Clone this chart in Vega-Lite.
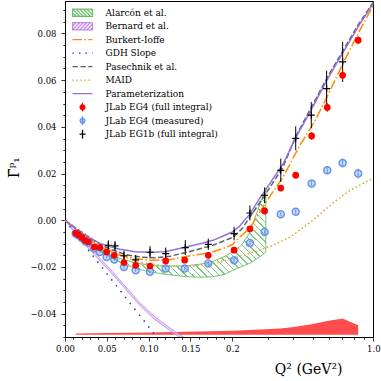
{
  "$schema": "https://vega.github.io/schema/vega-lite/v6.json",
  "width": 308,
  "height": 336,
  "autosize": {"type": "none"},
  "padding": {"left": 65, "top": 1, "right": 8, "bottom": 44},
  "background": "white",
  "config": {
    "view": {"stroke": "black", "strokeWidth": 1},
    "axis": {"grid": false, "domainColor": "black", "tickColor": "black", "labelColor": "black", "titleColor": "black", "labelFont": "DejaVu Serif", "titleFont": "DejaVu Serif", "labelFontSize": 8.5, "titleFontWeight": "normal", "tickWidth": 0.8, "domainWidth": 1}
  },
  "datasets": {
    "sys": [{"q":0.0128,"top":-0.0485},{"q":0.0498,"top":-0.0483},{"q":0.1016,"top":-0.0481},{"q":0.1431,"top":-0.0478},{"q":0.2046,"top":-0.0473},{"q":0.29,"top":-0.0467},{"q":0.348,"top":-0.0464},{"q":0.413,"top":-0.0456},{"q":0.495,"top":-0.0445},{"q":0.592,"top":-0.0432},{"q":0.705,"top":-0.0421},{"q":0.843,"top":-0.045}],
    "alarcon": [{"q":0.0299,"lo":-0.0103,"hi":-0.0099},{"q":0.0418,"lo":-0.0133,"hi":-0.0127},{"q":0.0538,"lo":-0.0158,"hi":-0.0148},{"q":0.0681,"lo":-0.0184,"hi":-0.0167},{"q":0.0837,"lo":-0.0206,"hi":-0.0182},{"q":0.1016,"lo":-0.0221,"hi":-0.0193},{"q":0.1195,"lo":-0.0231,"hi":-0.0197},{"q":0.1459,"lo":-0.0242,"hi":-0.0195},{"q":0.1614,"lo":-0.0244,"hi":-0.0188},{"q":0.177,"lo":-0.0242,"hi":-0.0176},{"q":0.1913,"lo":-0.0231,"hi":-0.0154},{"q":0.2016,"lo":-0.0214,"hi":-0.0135},{"q":0.2234,"lo":-0.0199,"hi":-0.0107},{"q":0.2448,"lo":-0.0184,"hi":-0.0051},{"q":0.2682,"lo":-0.0163,"hi":0.0043},{"q":0.2938,"lo":-0.0137,"hi":0.0137}],
    "bernard": [{"q":0,"lo":0,"hi":0},{"q":0.0179,"lo":-0.0081,"hi":-0.0073},{"q":0.0359,"lo":-0.0151,"hi":-0.0141},{"q":0.0538,"lo":-0.022,"hi":-0.0208},{"q":0.0717,"lo":-0.0293,"hi":-0.0281},{"q":0.0897,"lo":-0.0366,"hi":-0.0354},{"q":0.1076,"lo":-0.0426,"hi":-0.0414},{"q":0.1255,"lo":-0.0473,"hi":-0.0461},{"q":0.1375,"lo":-0.0503,"hi":-0.0491},{"q":0.1554,"lo":-0.0541,"hi":-0.0529}],
    "maid": [{"q":0,"v":0},{"q":0.012,"v":-0.003},{"q":0.0239,"v":-0.0058},{"q":0.0359,"v":-0.0086},{"q":0.0478,"v":-0.0111},{"q":0.0658,"v":-0.0146},{"q":0.0837,"v":-0.0176},{"q":0.1016,"v":-0.0188},{"q":0.1195,"v":-0.0195},{"q":0.1459,"v":-0.0199},{"q":0.1733,"v":-0.0188},{"q":0.2016,"v":-0.0165},{"q":0.2448,"v":-0.0141},{"q":0.3076,"v":-0.0113},{"q":0.3864,"v":-0.0073},{"q":0.5024,"v":0.0},{"q":0.6314,"v":0.0073},{"q":0.7669,"v":0.0128},{"q":1.0,"v":0.018}],
    "pas": [{"q":0,"v":0},{"q":0.0179,"v":-0.0047},{"q":0.0359,"v":-0.009},{"q":0.0538,"v":-0.0124},{"q":0.0717,"v":-0.0146},{"q":0.0897,"v":-0.0158},{"q":0.1076,"v":-0.0161},{"q":0.1255,"v":-0.0154},{"q":0.1459,"v":-0.0137},{"q":0.177,"v":-0.0107},{"q":0.2016,"v":-0.0073},{"q":0.2234,"v":-0.0039},{"q":0.2448,"v":0.0013},{"q":0.2905,"v":0.0107},{"q":0.3568,"v":0.0227},{"q":0.4138,"v":0.036},{"q":0.4911,"v":0.048},{"q":0.5896,"v":0.0608},{"q":0.6998,"v":0.0719},{"q":0.8402,"v":0.0835},{"q":1.0,"v":0.0934}],
    "bi": [{"q":0,"v":0},{"q":0.012,"v":-0.0034},{"q":0.0239,"v":-0.0069},{"q":0.0359,"v":-0.0099},{"q":0.0478,"v":-0.0122},{"q":0.0658,"v":-0.015},{"q":0.0837,"v":-0.0165},{"q":0.1016,"v":-0.0171},{"q":0.1255,"v":-0.0169},{"q":0.1459,"v":-0.0154},{"q":0.1614,"v":-0.0146},{"q":0.177,"v":-0.0135},{"q":0.1913,"v":-0.0118},{"q":0.2016,"v":-0.0103},{"q":0.2184,"v":-0.0073},{"q":0.2448,"v":-0.0034},{"q":0.2938,"v":0.0077},{"q":0.3568,"v":0.0184},{"q":0.4334,"v":0.0321},{"q":0.514,"v":0.0424},{"q":0.5896,"v":0.0527},{"q":0.7078,"v":0.0672},{"q":0.8594,"v":0.0814},{"q":1.0,"v":0.0921}],
    "gdh": [{"q":0,"v":0},{"q":0.1095,"v":-0.05}],
    "param": [{"q":0,"v":0},{"q":0.006,"v":-0.0019},{"q":0.0179,"v":-0.0051},{"q":0.0299,"v":-0.0077},{"q":0.0418,"v":-0.0099},{"q":0.0538,"v":-0.0113},{"q":0.0658,"v":-0.0124},{"q":0.0837,"v":-0.0135},{"q":0.1016,"v":-0.0137},{"q":0.1195,"v":-0.0135},{"q":0.1435,"v":-0.0116},{"q":0.1614,"v":-0.0101},{"q":0.177,"v":-0.0086},{"q":0.1913,"v":-0.0064},{"q":0.2016,"v":-0.0049},{"q":0.2184,"v":-0.0026},{"q":0.2448,"v":0.0026},{"q":0.2744,"v":0.0094},{"q":0.3076,"v":0.0158},{"q":0.3568,"v":0.024},{"q":0.4138,"v":0.0355},{"q":0.4911,"v":0.0471},{"q":0.5896,"v":0.06},{"q":0.6998,"v":0.0711},{"q":0.8402,"v":0.0827},{"q":1.0,"v":0.0929}],
    "eg1b": [{"q":0.0518,"v":-0.0107,"e":0.0021},{"q":0.0598,"v":-0.011,"e":0.0021},{"q":0.0705,"v":-0.0152,"e":0.0021},{"q":0.0845,"v":-0.017,"e":0.0021},{"q":0.1016,"v":-0.0137,"e":0.0026},{"q":0.1204,"v":-0.0143,"e":0.0026},{"q":0.1438,"v":-0.0117,"e":0.0032},{"q":0.1713,"v":-0.0103,"e":0.0024},{"q":0.2046,"v":-0.0057,"e":0.0029},{"q":0.245,"v":0.0031,"e":0.0032},{"q":0.29,"v":0.0107,"e":0.0034},{"q":0.348,"v":0.0214,"e":0.005},{"q":0.413,"v":0.0351,"e":0.0051},{"q":0.493,"v":0.045,"e":0.0056},{"q":0.588,"v":0.0564,"e":0.0076},{"q":0.705,"v":0.0678,"e":0.0086}],
    "eg4meas": [{"q":0.0128,"v":-0.0057,"e":0.0004},{"q":0.0159,"v":-0.0064,"e":0.0004},{"q":0.02,"v":-0.0076,"e":0.0004},{"q":0.0239,"v":-0.0089,"e":0.0004},{"q":0.0279,"v":-0.0096,"e":0.0005},{"q":0.035,"v":-0.0121,"e":0.0005},{"q":0.0418,"v":-0.0136,"e":0.0005},{"q":0.0498,"v":-0.0157,"e":0.0006},{"q":0.0589,"v":-0.0168,"e":0.0006},{"q":0.0705,"v":-0.02,"e":0.0007},{"q":0.0845,"v":-0.0214,"e":0.0007},{"q":0.1016,"v":-0.0221,"e":0.0007},{"q":0.1204,"v":-0.0207,"e":0.0008},{"q":0.1431,"v":-0.0207,"e":0.0008},{"q":0.1713,"v":-0.0185,"e":0.0009},{"q":0.2046,"v":-0.0171,"e":0.0009},{"q":0.245,"v":-0.0097,"e":0.0009},{"q":0.29,"v":-0.005,"e":0.0009},{"q":0.348,"v":0.0026,"e":0.0009},{"q":0.413,"v":0.0036,"e":0.001},{"q":0.495,"v":0.0157,"e":0.0011},{"q":0.592,"v":0.0214,"e":0.0016},{"q":0.705,"v":0.0245,"e":0.0019},{"q":0.843,"v":0.02,"e":0.0021}],
    "eg4full": [{"q":0.0128,"v":-0.0055,"e":0.0004},{"q":0.0159,"v":-0.0062,"e":0.0004},{"q":0.02,"v":-0.0073,"e":0.0004},{"q":0.0239,"v":-0.0086,"e":0.0004},{"q":0.0279,"v":-0.0092,"e":0.0004},{"q":0.035,"v":-0.0115,"e":0.0005},{"q":0.0418,"v":-0.0117,"e":0.0005},{"q":0.0498,"v":-0.0136,"e":0.0006},{"q":0.0589,"v":-0.015,"e":0.0006},{"q":0.0705,"v":-0.0181,"e":0.0007},{"q":0.0845,"v":-0.0193,"e":0.0007},{"q":0.1016,"v":-0.0196,"e":0.0007},{"q":0.1204,"v":-0.0174,"e":0.0008},{"q":0.1431,"v":-0.0171,"e":0.0009},{"q":0.1713,"v":-0.015,"e":0.001},{"q":0.2046,"v":-0.0128,"e":0.0011},{"q":0.245,"v":-0.0037,"e":0.0011},{"q":0.29,"v":0.004,"e":0.0012},{"q":0.348,"v":0.0138,"e":0.0012},{"q":0.413,"v":0.0193,"e":0.0014},{"q":0.495,"v":0.0361,"e":0.0017},{"q":0.592,"v":0.0483,"e":0.0019},{"q":0.705,"v":0.0621,"e":0.0022},{"q":0.843,"v":0.0771,"e":0.0017}],
    "legend": [{"series":"Alarcón et al."},{"series":"Bernard et al."},{"series":"Burkert-Ioffe"},{"series":"GDH Slope"},{"series":"Pasechnik et al."},{"series":"MAID"},{"series":"Parameterization"},{"series":"JLab EG4 (full integral)"},{"series":"JLab EG4 (measured)"},{"series":"JLab EG1b (full integral)"}]
  },
  "encoding": {
    "x": {
      "field": "q", "type": "quantitative",
      "scale": {"domain": [0,0.2,0.25,0.3,0.35,0.4,0.45,0.5,0.6,0.7,0.8,0.9,1], "range": [0,167.3,186.85,202.82,216.32,228.02,238.34,247.57,263.54,277.04,288.74,299.06,308.3], "nice": false, "zero": false},
      "axis": {
        "values": [0,0.01,0.02,0.03,0.04,0.05,0.06,0.07,0.08,0.09,0.1,0.11,0.12,0.13,0.14,0.15,0.16,0.17,0.18,0.19,0.2,0.3,0.4,0.5,0.6,0.7,0.8,0.9,1],
        "labelExpr": "indexof([0,0.05,0.1,0.15,0.2,1], datum.value) < 0 ? '' : (datum.value <= 0.15 ? format(datum.value, '.2f') : format(datum.value, '.1f'))",
        "tickSize": {"condition": {"test": "indexof([0,0.05,0.1,0.15,0.2,1], datum.value) >= 0", "value": 4}, "value": 2.2},
        "labelPadding": 3, "labelOverlap": false, "labelFlush": false,
        "title": "Q² (GeV²)", "titleFontSize": 14, "titleX": 277, "titleY": 36, "titleAlign": "right", "titleBaseline": "alphabetic"
      }
    },
    "y": {
      "field": "v", "type": "quantitative",
      "scale": {"domain": [-0.05, 0.0939], "nice": false, "zero": false},
      "axis": {
        "values": [-0.05,-0.045,-0.04,-0.035,-0.03,-0.025,-0.02,-0.015,-0.01,-0.005,0,0.005,0.01,0.015,0.02,0.025,0.03,0.035,0.04,0.045,0.05,0.055,0.06,0.065,0.07,0.075,0.08,0.085,0.09],
        "labelExpr": "abs(datum.value*50 - round(datum.value*50)) < 1e-6 ? format(datum.value, '.2f') : ''",
        "tickSize": {"condition": {"test": "abs(datum.value*50 - round(datum.value*50)) < 1e-6", "value": 4}, "value": 2.2},
        "labelPadding": 5, "labelOverlap": false, "labelFlush": false,
        "title": "Γ̄ᵖ₁", "titleFontSize": 14, "titleAngle": 270, "titleX": -51, "titleY": 166, "titleAlign": "center", "titleBaseline": "middle"
      }
    }
  },
  "layer": [
    {"data": {"name": "sys"}, "mark": {"type": "area", "color": "#ff4d4d", "opacity": 1}, "encoding": {"y": {"field": "top", "type": "quantitative"}, "y2": {"datum": -0.049}}},
    {"data": {"name": "alarcon"}, "mark": {"type": "area", "stroke": "#74c474", "strokeWidth": 1, "fill": {"gradient": "linear", "x1": 0, "y1": 0.511, "x2": 1, "y2": 0, "stops": [
      {"offset":0,"color":"#7dc97d"},{"offset":0.0065,"color":"#7dc97d"},{"offset":0.0065,"color":"rgba(125,201,125,0)"},{"offset":0.03,"color":"rgba(125,201,125,0)"},
      {"offset":0.03,"color":"#7dc97d"},{"offset":0.0365,"color":"#7dc97d"},{"offset":0.0365,"color":"rgba(125,201,125,0)"},{"offset":0.06,"color":"rgba(125,201,125,0)"},
      {"offset":0.06,"color":"#7dc97d"},{"offset":0.0665,"color":"#7dc97d"},{"offset":0.0665,"color":"rgba(125,201,125,0)"},{"offset":0.09,"color":"rgba(125,201,125,0)"},
      {"offset":0.09,"color":"#7dc97d"},{"offset":0.0965,"color":"#7dc97d"},{"offset":0.0965,"color":"rgba(125,201,125,0)"},{"offset":0.12,"color":"rgba(125,201,125,0)"},
      {"offset":0.12,"color":"#7dc97d"},{"offset":0.1265,"color":"#7dc97d"},{"offset":0.1265,"color":"rgba(125,201,125,0)"},{"offset":0.15,"color":"rgba(125,201,125,0)"},
      {"offset":0.15,"color":"#7dc97d"},{"offset":0.1565,"color":"#7dc97d"},{"offset":0.1565,"color":"rgba(125,201,125,0)"},{"offset":0.18,"color":"rgba(125,201,125,0)"},
      {"offset":0.18,"color":"#7dc97d"},{"offset":0.1865,"color":"#7dc97d"},{"offset":0.1865,"color":"rgba(125,201,125,0)"},{"offset":0.21,"color":"rgba(125,201,125,0)"},
      {"offset":0.21,"color":"#7dc97d"},{"offset":0.2165,"color":"#7dc97d"},{"offset":0.2165,"color":"rgba(125,201,125,0)"},{"offset":0.24,"color":"rgba(125,201,125,0)"},
      {"offset":0.24,"color":"#7dc97d"},{"offset":0.2465,"color":"#7dc97d"},{"offset":0.2465,"color":"rgba(125,201,125,0)"},{"offset":0.27,"color":"rgba(125,201,125,0)"},
      {"offset":0.27,"color":"#7dc97d"},{"offset":0.2765,"color":"#7dc97d"},{"offset":0.2765,"color":"rgba(125,201,125,0)"},{"offset":0.30,"color":"rgba(125,201,125,0)"},
      {"offset":0.30,"color":"#7dc97d"},{"offset":0.3065,"color":"#7dc97d"},{"offset":0.3065,"color":"rgba(125,201,125,0)"},{"offset":0.33,"color":"rgba(125,201,125,0)"},
      {"offset":0.33,"color":"#7dc97d"},{"offset":0.3365,"color":"#7dc97d"},{"offset":0.3365,"color":"rgba(125,201,125,0)"},{"offset":0.36,"color":"rgba(125,201,125,0)"},
      {"offset":0.36,"color":"#7dc97d"},{"offset":0.3665,"color":"#7dc97d"},{"offset":0.3665,"color":"rgba(125,201,125,0)"},{"offset":0.39,"color":"rgba(125,201,125,0)"},
      {"offset":0.39,"color":"#7dc97d"},{"offset":0.3965,"color":"#7dc97d"},{"offset":0.3965,"color":"rgba(125,201,125,0)"},{"offset":0.42,"color":"rgba(125,201,125,0)"},
      {"offset":0.42,"color":"#7dc97d"},{"offset":0.4265,"color":"#7dc97d"},{"offset":0.4265,"color":"rgba(125,201,125,0)"},{"offset":0.45,"color":"rgba(125,201,125,0)"},
      {"offset":0.45,"color":"#7dc97d"},{"offset":0.4565,"color":"#7dc97d"},{"offset":0.4565,"color":"rgba(125,201,125,0)"},{"offset":0.48,"color":"rgba(125,201,125,0)"},
      {"offset":0.48,"color":"#7dc97d"},{"offset":0.4865,"color":"#7dc97d"},{"offset":0.4865,"color":"rgba(125,201,125,0)"},{"offset":0.51,"color":"rgba(125,201,125,0)"},
      {"offset":0.51,"color":"#7dc97d"},{"offset":0.5165,"color":"#7dc97d"},{"offset":0.5165,"color":"rgba(125,201,125,0)"},{"offset":0.54,"color":"rgba(125,201,125,0)"},
      {"offset":0.54,"color":"#7dc97d"},{"offset":0.5465,"color":"#7dc97d"},{"offset":0.5465,"color":"rgba(125,201,125,0)"},{"offset":0.57,"color":"rgba(125,201,125,0)"},
      {"offset":0.57,"color":"#7dc97d"},{"offset":0.5765,"color":"#7dc97d"},{"offset":0.5765,"color":"rgba(125,201,125,0)"},{"offset":0.60,"color":"rgba(125,201,125,0)"},
      {"offset":0.60,"color":"#7dc97d"},{"offset":0.6065,"color":"#7dc97d"},{"offset":0.6065,"color":"rgba(125,201,125,0)"},{"offset":0.63,"color":"rgba(125,201,125,0)"},
      {"offset":0.63,"color":"#7dc97d"},{"offset":0.6365,"color":"#7dc97d"},{"offset":0.6365,"color":"rgba(125,201,125,0)"},{"offset":0.66,"color":"rgba(125,201,125,0)"},
      {"offset":0.66,"color":"#7dc97d"},{"offset":0.6665,"color":"#7dc97d"},{"offset":0.6665,"color":"rgba(125,201,125,0)"},{"offset":0.69,"color":"rgba(125,201,125,0)"},
      {"offset":0.69,"color":"#7dc97d"},{"offset":0.6965,"color":"#7dc97d"},{"offset":0.6965,"color":"rgba(125,201,125,0)"},{"offset":0.72,"color":"rgba(125,201,125,0)"},
      {"offset":0.72,"color":"#7dc97d"},{"offset":0.7265,"color":"#7dc97d"},{"offset":0.7265,"color":"rgba(125,201,125,0)"},{"offset":0.75,"color":"rgba(125,201,125,0)"},
      {"offset":0.75,"color":"#7dc97d"},{"offset":0.7565,"color":"#7dc97d"},{"offset":0.7565,"color":"rgba(125,201,125,0)"},{"offset":0.78,"color":"rgba(125,201,125,0)"},
      {"offset":0.78,"color":"#7dc97d"},{"offset":0.7865,"color":"#7dc97d"},{"offset":0.7865,"color":"rgba(125,201,125,0)"},{"offset":0.81,"color":"rgba(125,201,125,0)"},
      {"offset":0.81,"color":"#7dc97d"},{"offset":0.8165,"color":"#7dc97d"},{"offset":0.8165,"color":"rgba(125,201,125,0)"},{"offset":0.84,"color":"rgba(125,201,125,0)"},
      {"offset":0.84,"color":"#7dc97d"},{"offset":0.8465,"color":"#7dc97d"},{"offset":0.8465,"color":"rgba(125,201,125,0)"},{"offset":0.87,"color":"rgba(125,201,125,0)"},
      {"offset":0.87,"color":"#7dc97d"},{"offset":0.8765,"color":"#7dc97d"},{"offset":0.8765,"color":"rgba(125,201,125,0)"},{"offset":0.90,"color":"rgba(125,201,125,0)"},
      {"offset":0.90,"color":"#7dc97d"},{"offset":0.9065,"color":"#7dc97d"},{"offset":0.9065,"color":"rgba(125,201,125,0)"},{"offset":0.93,"color":"rgba(125,201,125,0)"},
      {"offset":0.93,"color":"#7dc97d"},{"offset":0.9365,"color":"#7dc97d"},{"offset":0.9365,"color":"rgba(125,201,125,0)"},{"offset":0.96,"color":"rgba(125,201,125,0)"},
      {"offset":0.96,"color":"#7dc97d"},{"offset":0.9665,"color":"#7dc97d"},{"offset":0.9665,"color":"rgba(125,201,125,0)"},{"offset":0.99,"color":"rgba(125,201,125,0)"},
      {"offset":0.99,"color":"#7dc97d"},{"offset":0.9965,"color":"#7dc97d"},{"offset":0.9965,"color":"rgba(125,201,125,0)"},{"offset":1,"color":"rgba(125,201,125,0)"}
    ]}}, "encoding": {"y": {"field": "lo", "type": "quantitative"}, "y2": {"field": "hi"}}},
    {"data": {"name": "bernard"}, "mark": {"type": "area", "fill": "#dcbcf4", "fillOpacity": 0.7, "stroke": "#c08be6", "strokeWidth": 0.8, "clip": true}, "encoding": {"y": {"field": "lo", "type": "quantitative"}, "y2": {"field": "hi"}}},
    {"data": {"name": "maid"}, "mark": {"type": "line", "color": "#daa520", "strokeWidth": 1.5, "strokeDash": [1.5, 2.5]}, "encoding": {}},
    {"data": {"name": "pas"}, "mark": {"type": "line", "color": "#606060", "strokeWidth": 1.5, "strokeDash": [5.5, 2.4]}, "encoding": {}},
    {"data": {"name": "bi"}, "mark": {"type": "line", "color": "#ff8c00", "strokeWidth": 1.5, "strokeDash": [9.6, 2.4, 1.5, 2.4]}, "encoding": {}},
    {"data": {"name": "gdh"}, "mark": {"type": "line", "color": "#2a2ad0", "strokeWidth": 1.5, "strokeDash": [1.5, 6], "clip": true}, "encoding": {}},
    {"data": {"name": "param"}, "mark": {"type": "line", "color": "#9370db", "strokeWidth": 1.5}, "encoding": {}},
    {"data": {"values": [{}]}, "mark": {"type": "rule", "color": "black", "strokeWidth": 1.2}, "encoding": {"x": {"datum": 0}, "x2": {"datum": 1}, "y": {"datum": 0}}},
    {"data": {"name": "eg1b"}, "mark": {"type": "errorbar", "color": "black", "thickness": 1}, "encoding": {"yError": {"field": "e"}}},
    {"data": {"name": "eg1b"}, "mark": {"type": "point", "shape": "M-1,0H1M0,-1V1", "size": 49, "stroke": "black", "strokeWidth": 1.2, "filled": false, "opacity": 1}, "encoding": {}},
    {"data": {"name": "eg4meas"}, "mark": {"type": "errorbar", "color": "#6495ed", "thickness": 1}, "encoding": {"yError": {"field": "e"}}},
    {"data": {"name": "eg4meas"}, "mark": {"type": "point", "shape": "circle", "size": 50, "stroke": "#6495ed", "strokeWidth": 1.4, "fill": "#6495ed", "fillOpacity": 0.35, "filled": true, "opacity": 1}, "encoding": {}},
    {"data": {"name": "eg4full"}, "mark": {"type": "errorbar", "color": "#ff0000", "thickness": 1}, "encoding": {"yError": {"field": "e"}}},
    {"data": {"name": "eg4full"}, "mark": {"type": "point", "shape": "circle", "size": 45, "filled": true, "color": "#ff0000", "opacity": 1}, "encoding": {}},
    {
      "data": {"name": "legend"},
      "mark": {"type": "point", "opacity": 0, "filled": false},
      "encoding": {
        "x": {"datum": 0.5},
        "y": {"datum": 0},
        "stroke": {
          "field": "series", "type": "nominal",
          "scale": {
            "domain": ["Alarcón et al.","Bernard et al.","Burkert-Ioffe","GDH Slope","Pasechnik et al.","MAID","Parameterization","JLab EG4 (full integral)","JLab EG4 (measured)","JLab EG1b (full integral)"],
            "range": ["#6cbf6c","#c08be6","#ff8c00","#2a2ad0","#606060","#daa520","#9370db","#ff0000","#6495ed","#000000"]
          },
          "legend": {"title": null, "orient": "none", "legendX": 3, "legendY": 2.7, "padding": 4, "symbolSize": 64, "symbolStrokeWidth": 1.3, "symbolOpacity": 1, "symbolOffset": 5.5, "labelOffset": 18, "labelFont": "DejaVu Serif", "labelFontSize": 9, "labelColor": "black", "rowPadding": 3.5, "clipHeight": 10, "labelLimit": 250}
        },
        "fill": {
          "field": "series", "type": "nominal",
          "scale": {
            "domain": ["Alarcón et al.","Bernard et al.","Burkert-Ioffe","GDH Slope","Pasechnik et al.","MAID","Parameterization","JLab EG4 (full integral)","JLab EG4 (measured)","JLab EG1b (full integral)"],
            "range": ["transparent","transparent","transparent","transparent","transparent","transparent","transparent","#ff0000","#a8c3f3","transparent"]
          },
          "legend": {"title": null, "orient": "none", "legendX": 3, "legendY": 2.7, "padding": 4, "symbolSize": 64, "symbolStrokeWidth": 1.3, "symbolOpacity": 1, "symbolOffset": 5.5, "labelOffset": 18, "labelFont": "DejaVu Serif", "labelFontSize": 9, "labelColor": "black", "rowPadding": 3.5, "clipHeight": 10, "labelLimit": 250}
        },
        "shape": {
          "field": "series", "type": "nominal",
          "scale": {
            "domain": ["Alarcón et al.","Bernard et al.","Burkert-Ioffe","GDH Slope","Pasechnik et al.","MAID","Parameterization","JLab EG4 (full integral)","JLab EG4 (measured)","JLab EG1b (full integral)"],
            "range": [
              "M-2.5,-0.9H2.5V0.9H-2.5Z M-2.5,-0.9L-0.7,0.9 M-1.6,-0.9L0.2,0.9 M-0.7,-0.9L1.1,0.9 M0.2,-0.9L2,0.9 M1.1,-0.9L2.5,0.5 M-2.5,0L-1.6,0.9 M2,-0.9L2.5,-0.4",
              "M-2.5,-0.9H2.5V0.9H-2.5Z M-2.5,0.9L-0.7,-0.9 M-1.6,0.9L0.2,-0.9 M-0.7,0.9L1.1,-0.9 M0.2,0.9L2,-0.9 M1.1,0.9L2.5,-0.5 M-2.5,0L-1.6,-0.9 M2,0.9L2.5,0.4",
              "M-2.5,0H2.5", "M-2.5,0H2.5", "M-2.5,0H2.5", "M-2.5,0H2.5", "M-2.5,0H2.5",
              "M-0.6,0A0.6,0.6,0,1,1,0.6,0A0.6,0.6,0,1,1,-0.6,0Z M0,-1.1V1.1",
              "M-0.6,0A0.6,0.6,0,1,1,0.6,0A0.6,0.6,0,1,1,-0.6,0Z M0,-1.1V1.1",
              "M-0.75,0H0.75 M0,-1.1V1.1"
            ]
          },
          "legend": {"title": null, "orient": "none", "legendX": 3, "legendY": 2.7, "padding": 4, "symbolSize": 64, "symbolStrokeWidth": 1.3, "symbolOpacity": 1, "symbolOffset": 5.5, "labelOffset": 18, "labelFont": "DejaVu Serif", "labelFontSize": 9, "labelColor": "black", "rowPadding": 3.5, "clipHeight": 10, "labelLimit": 250}
        },
        "strokeDash": {
          "field": "series", "type": "nominal",
          "scale": {
            "domain": ["Alarcón et al.","Bernard et al.","Burkert-Ioffe","GDH Slope","Pasechnik et al.","MAID","Parameterization","JLab EG4 (full integral)","JLab EG4 (measured)","JLab EG1b (full integral)"],
            "range": [[1,0],[1,0],[9.6,2.4,1.5,2.4],[1.5,5],[5.5,2.4],[1.5,2.5],[1,0],[1,0],[1,0],[1,0]]
          },
          "legend": {"title": null, "orient": "none", "legendX": 3, "legendY": 2.7, "padding": 4, "symbolSize": 64, "symbolStrokeWidth": 1.3, "symbolOpacity": 1, "symbolOffset": 5.5, "labelOffset": 18, "labelFont": "DejaVu Serif", "labelFontSize": 9, "labelColor": "black", "rowPadding": 3.5, "clipHeight": 10, "labelLimit": 250}
        }
      }
    }
  ]
}
